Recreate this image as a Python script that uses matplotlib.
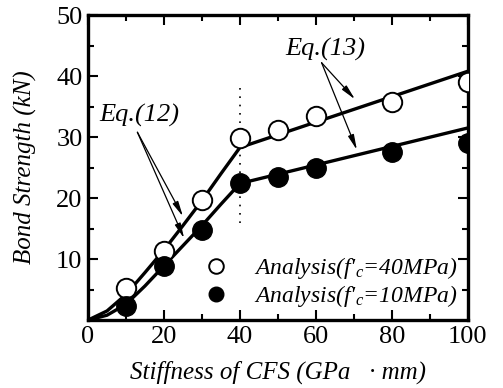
import matplotlib.pyplot as plt
import numpy as np

plt.rcParams['font.family'] = ['Liberation Serif', 'DejaVu Serif']
plt.rcParams['mathtext.fontset'] = 'custom'
plt.rcParams['mathtext.it'] = 'Liberation Serif:italic'
plt.rcParams['mathtext.rm'] = 'Liberation Serif'

# analysis points
stiff = [10, 20, 30, 40, 50, 60, 80, 100]
fc40 = [5.2, 11.3, 19.7, 29.8, 31.2, 33.4, 35.8, 39.0]
fc10 = [2.3, 8.9, 14.8, 22.4, 23.5, 25.0, 27.5, 29.0]

# Eq.(12) up to 40, Eq.(13) beyond
eq_x = [0, 5, 10, 15, 20, 25, 30, 35, 40, 100]
eq_40 = [0, 1.5, 4.2, 7.8, 11.5, 15.5, 19.6, 24.0, 28.3, 40.8]
eq_10 = [0, 0.8, 2.6, 5.6, 8.9, 12.2, 15.5, 19.0, 22.4, 31.5]

fig = plt.figure(figsize=(5.03, 3.88), dpi=100)
ax = fig.add_axes([0.175, 0.175, 0.755, 0.786])

ax.plot([40, 40], [16, 38], color='k', linestyle=(0, (1, 4)), lw=1.2)
ax.plot(eq_x, eq_40, color='k', lw=2.4, zorder=3)
ax.plot(eq_x, eq_10, color='k', lw=2.4, zorder=3)
ax.plot(stiff, fc40, 'o', ms=14, mfc='white', mec='k', mew=1.4, zorder=4,
        label="Analysis(f'$_c$=40MPa)")
ax.plot(stiff, fc10, 'o', ms=14, mfc='k', mec='k', zorder=4,
        label="Analysis(f'$_c$=10MPa)")

arrow = dict(arrowstyle='-|>,head_length=0.9,head_width=0.18', color='k', lw=0.9,
             shrinkA=0, shrinkB=0)
ax.text(13.4, 33.6, 'Eq.(12)', fontsize=19, style='italic', ha='center', va='center')
ax.annotate('', xy=(25, 17.0), xytext=(13, 30.8), arrowprops=arrow)
ax.annotate('', xy=(25.3, 13.4), xytext=(13, 30.8), arrowprops=arrow)
ax.text(62.4, 44.4, 'Eq.(13)', fontsize=19, style='italic', ha='center', va='center')
ax.annotate('', xy=(70.3, 36.2), xytext=(61.5, 42.2), arrowprops=arrow)
ax.annotate('', xy=(70.8, 27.9), xytext=(61.5, 42.2), arrowprops=arrow)

ax.set_xlim(0, 100)
ax.set_ylim(0, 50)
ax.set_xticks([0, 20, 40, 60, 80, 100])
ax.set_xticks([10, 30, 50, 70, 90], minor=True)
ax.set_yticks([10, 20, 30, 40, 50])
ax.set_yticks([5, 15, 25, 35, 45], minor=True)
ax.tick_params(which='both', direction='in', top=True, right=True, width=1.5,
               labelsize=19, pad=4)
ax.tick_params(which='major', length=7)
ax.tick_params(which='minor', length=4)
for s in ax.spines.values():
    s.set_linewidth(2.4)

ax.set_xlabel('Stiffness of CFS (GPa   · mm)', fontsize=18, style='italic', labelpad=9)
ax.set_ylabel('Bond Strength (kN)', fontsize=18, style='italic', labelpad=14)

leg = ax.legend(loc='lower right', frameon=False, prop={'style': 'italic', 'size': 17},
                markerscale=0.75, handlelength=1.2, handletextpad=1.0,
                borderaxespad=0.05, labelspacing=0.1)

fig.savefig('out.png', dpi=100)
